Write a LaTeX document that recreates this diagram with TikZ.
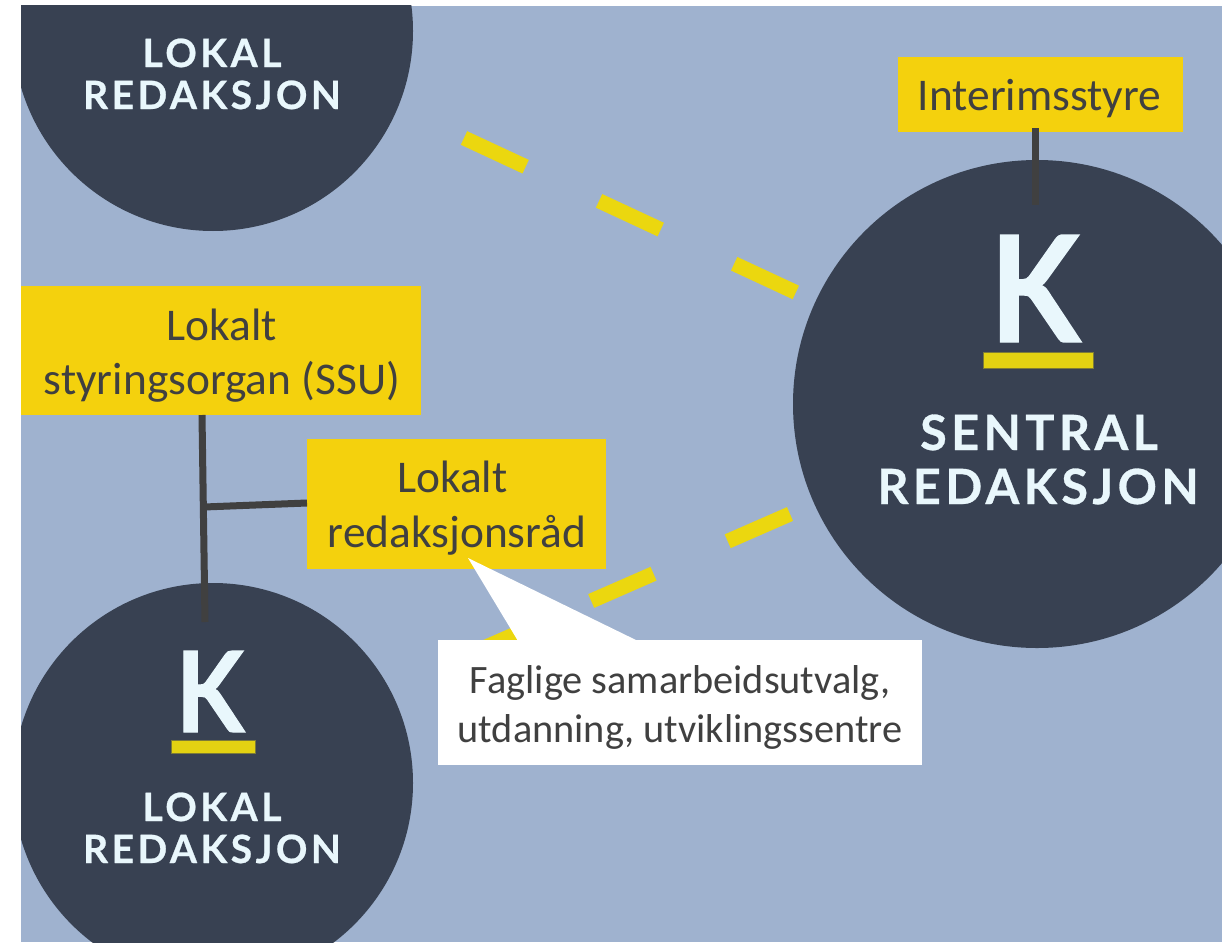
\documentclass[tikz,border=0pt]{standalone}
\usepackage{fontspec}
\setmainfont{Carlito}
\newfontfamily\logofont[LetterSpace=9,BoldFeatures={FakeBold=0.6}]{Lato}
\newfontfamily\kfont[BoldFeatures={FakeBold=1.0}]{Lato}
\definecolor{bluebg}{HTML}{9FB2CF}
\definecolor{navy}{HTML}{384152}
\definecolor{boxyellow}{HTML}{F4D10D}
\definecolor{dashyellow}{HTML}{EBD70F}
\definecolor{baryellow}{HTML}{E3D212}
\definecolor{ink}{HTML}{404040}
\definecolor{logowhite}{HTML}{E9F7FC}
% #1 kern (moves text right by half of it), #2 vertical shift, #3 width, #4 text
\newcommand\boxtext[4]{\kern#1\raisebox{#2}[\height][\depth]{\parbox{#3}{\centering #4}}}
\tikzset{
  disc/.style={circle,fill=navy,inner sep=0pt,minimum size=#1},
  labelbox/.style={rectangle,fill=boxyellow,text=ink,inner sep=0pt,font=\fontsize{45.4}{54.5}\selectfont},
  notebox/.style={rectangle,fill=white,text=ink,inner sep=0pt,minimum width=484pt,minimum height=125pt,font=\fontsize{40.3}{49}\selectfont},
  linkline/.style={draw=ink,line width=7pt},
  dashlink/.style={draw=dashyellow,line width=15pt,dash pattern=on 68pt off 81pt},
  logotext/.style={anchor=base,text=logowhite,inner sep=0pt,align=center},
  bar/.style={rectangle,fill=baryellow,draw=navy!60!baryellow,line width=1pt,inner sep=0pt}
}
\begin{document}
\begin{tikzpicture}[x=1pt,y=-1pt]
\useasboundingbox (0,0) rectangle (1222,942);
\fill[white] (0,0) rectangle (1222,942);
\begin{scope}
\clip (21,6) rectangle (1222,942);
\fill[bluebg] (21,6) rectangle (1222,942);
\node[disc=400pt] (topdisc) at (213,31) {};
\node[disc=400pt] (lowdisc) at (213,783) {};
\node[disc=488pt] (central) at (1037,404) {};
\end{scope}
% dashed links
\coordinate (dashTopA) at (464,138);
\coordinate (dashTopB) at (797,293);
\coordinate (dashLowA) at (790,514);
\coordinate (dashLowB) at (454,661);
\path[dashlink] (dashTopA) -- (dashTopB);
\path[dashlink] (dashLowA) -- (dashLowB);
% boxes
\node[labelbox,minimum width=285pt,minimum height=75pt] (interim) at (1040.5,94.5) {\boxtext{-2pt}{-4pt}{270pt}{Interimsstyre}};
\node[labelbox,minimum width=400pt,minimum height=129pt] (styring) at (221,350.5) {\boxtext{2pt}{-5pt}{380pt}{Lokalt\\styringsorgan (SSU)}};
\node[labelbox,minimum width=299pt,minimum height=130pt] (raad) at (456.5,504) {\boxtext{1pt}{-4pt}{280pt}{Lokalt\kern9pt\\redaksjonsråd}};
% connectors
\coordinate (interimStart) at (1035.5,128);
\coordinate (centralEnd) at (1035.5,205);
\coordinate (styringStart) at (202,415);
\coordinate (lowEnd) at (205,622);
\coordinate (junction) at (204,507);
\coordinate (raadEnd) at (307,503);
\path[linkline] (interimStart) -- (centralEnd);
\path[linkline] (styringStart) -- (lowEnd);
\path[linkline] (junction) -- (raadEnd);
% callout
\node[notebox] (note) at (680,702.5) {\boxtext{0pt}{-4.5pt}{470pt}{Faglige samarbeidsutvalg,\\utdanning, utviklingssentre}};
\coordinate (tip) at (468,558);
\fill[white] (518,641) -- (tip) -- (638,641) -- cycle;
% logos
\node[logotext,font=\kfont\bfseries\fontsize{148}{148}\selectfont] (kcentral) at (1035,342) {\scalebox{.89}[1]{K}};
\node[bar,minimum width=110pt,minimum height=16pt] (barcentral) at (1038,360) {};
\node[logotext,font=\logofont\bfseries\fontsize{48.6}{48}\selectfont] (sentral) at (1039,450) {SENTRAL};
\node[logotext,font=\logofont\bfseries\fontsize{48.6}{48}\selectfont] (redcentral) at (1038,504) {REDAKSJON};
\node[logotext,font=\kfont\bfseries\fontsize{112}{112}\selectfont] (klow) at (210,732) {\scalebox{.89}[1]{K}};
\node[bar,minimum width=84pt,minimum height=13pt] (barlow) at (213,746.5) {};
\node[logotext,font=\logofont\bfseries\fontsize{39}{39}\selectfont] (lokallow) at (212,821) {LOKAL};
\node[logotext,font=\logofont\bfseries\fontsize{39}{39}\selectfont] (redlow) at (212,863) {REDAKSJON};
\node[logotext,font=\logofont\bfseries\fontsize{39}{39}\selectfont] (lokaltop) at (212,67) {LOKAL};
\node[logotext,font=\logofont\bfseries\fontsize{39}{39}\selectfont] (redtop) at (212,109) {REDAKSJON};
\end{tikzpicture}
\end{document}
